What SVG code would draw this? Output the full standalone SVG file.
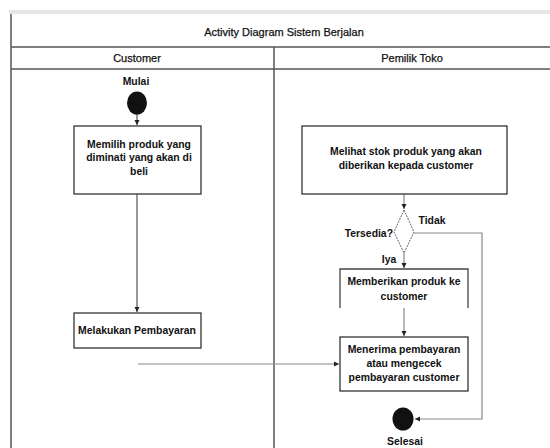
<svg xmlns="http://www.w3.org/2000/svg" width="550" height="448" viewBox="0 0 550 448">
<style>
text{font-family:"Liberation Sans",Arial,sans-serif;fill:#111;text-anchor:middle}
.t{font-size:11px;stroke:#111;stroke-width:0.25}
.b{font-size:10.4px;font-weight:bold}
.frame{stroke:#555;stroke-width:1.5;fill:none}
.box{fill:#fff;stroke:#333;stroke-width:1.3}
.c{stroke:#888;stroke-width:1.2;fill:none}
.cd{stroke:#555;stroke-width:1.2;fill:none}
</style>
<defs>
<marker id="ah" markerWidth="6" markerHeight="6" refX="5" refY="3" orient="auto" markerUnits="userSpaceOnUse">
<path d="M0,0.5 L5,3 L0,5.5 Z" fill="#222"/>
</marker>
</defs>
<rect x="0" y="0" width="550" height="448" fill="#fff"/>
<rect x="9" y="10" width="541" height="4" fill="#e6e6e6"/>
<g id="frame">
<path class="frame" d="M11,14 V448 M11,47 H550 M11,69 H550 M274,47 V448"/>
<text class="t" x="284" y="36">Activity Diagram Sistem Berjalan</text>
<text class="t" x="137" y="62">Customer</text>
<text class="t" x="412" y="62">Pemilik Toko</text>
</g>
<g id="connectors">
<line class="cd" x1="137" y1="114" x2="137" y2="125" marker-end="url(#ah)"/>
<line class="cd" x1="137" y1="194" x2="137" y2="312" marker-end="url(#ah)"/>
<line class="c" x1="404" y1="194" x2="404" y2="209" marker-end="url(#ah)"/>
<path class="c" d="M414,233 H482 V419 H415" marker-end="url(#ah)"/>
<line class="c" x1="404" y1="253" x2="404" y2="268" marker-end="url(#ah)"/>
<line class="c" x1="404" y1="308" x2="404" y2="336" marker-end="url(#ah)"/>
<line class="c" x1="138" y1="364" x2="339" y2="364" marker-end="url(#ah)"/>
</g>
<g id="start">
<text class="b" x="136" y="85">Mulai</text>
<ellipse cx="137" cy="103" rx="10" ry="11.5" fill="#111"/>
</g>
<g id="memilih">
<rect class="box" x="74" y="126" width="127" height="68"/>
<text class="b" x="139" y="148">Memilih produk yang</text>
<text class="b" x="139" y="161">diminati yang akan di</text>
<text class="b" x="139" y="175">beli</text>
</g>
<g id="melakukan">
<rect class="box" x="74" y="313" width="127" height="35"/>
<text class="b" x="137" y="334">Melakukan Pembayaran</text>
</g>
<g id="melihat">
<rect class="box" x="302" y="126" width="205" height="68"/>
<text class="b" x="406" y="155">Melihat stok produk yang akan</text>
<text class="b" x="406" y="169">diberikan kepada customer</text>
</g>
<g id="tersedia">
<path d="M404,210 L414,232 L404,253 L394,232 Z" fill="#fff" stroke="#666" stroke-width="1" stroke-dasharray="2,1"/>
<text class="b" x="393" y="237" style="text-anchor:end">Tersedia?</text>
<text class="b" x="432" y="224">Tidak</text>
<text class="b" x="389" y="263">Iya</text>
</g>
<g id="memberikan">
<rect x="340" y="269" width="128" height="39" fill="#fff"/>
<path d="M340,308 V269 H468 V308" fill="none" stroke="#444" stroke-width="1.3"/>
<text class="b" x="404" y="285">Memberikan produk ke</text>
<text class="b" x="404" y="300">customer</text>
</g>
<g id="menerima">
<rect class="box" x="340" y="337" width="128" height="54"/>
<text class="b" x="404" y="353">Menerima pembayaran</text>
<text class="b" x="404" y="367">atau mengecek</text>
<text class="b" x="404" y="381">pembayaran customer</text>
</g>
<g id="end">
<ellipse cx="403" cy="419" rx="10.5" ry="11.5" fill="#111"/>
<text class="b" x="405" y="445">Selesai</text>
</g>
</svg>
